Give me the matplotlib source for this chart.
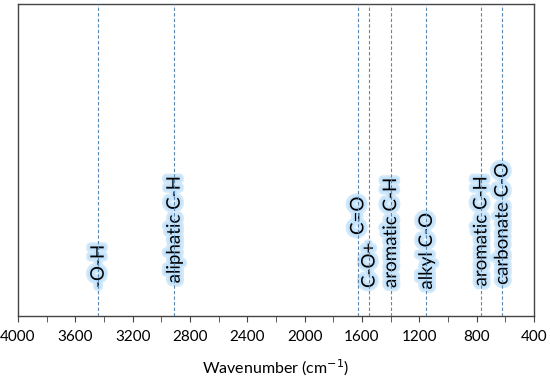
import matplotlib.pyplot as plt
import matplotlib.patheffects as pe
from matplotlib.ticker import MultipleLocator

# band positions (cm-1) and their assignments
bands = [3440, 2910, 1628, 1550, 1400, 1150, 770, 622]
labels = ['-O-H', 'aliphatic C-H', 'C=O', 'C-O+', 'aromatic C-H',
          'alkyl C-O', 'aromatic C-H', 'carbonate C-O']
label_y = [0.09, 0.105, 0.26, 0.09, 0.09, 0.085, 0.095, 0.1]

plt.rcParams['font.family'] = ['Lato', 'DejaVu Sans']


def main():
    fig = plt.figure(figsize=(5.5, 3.79), dpi=100)
    ax = fig.add_axes([0.0327, 0.166, 0.938, 0.823])
    ax.set_xlim(4000, 400)
    ax.set_ylim(0, 1)

    glow = [pe.withStroke(linewidth=6, foreground='#9fd0f5', alpha=0.45),
            pe.withStroke(linewidth=3, foreground='#c2e2fb')]
    for x, s, y in zip(bands, labels, label_y):
        ax.text(x, y, s, rotation=90, ha='center', va='bottom',
                fontsize=13.5, color='black', path_effects=glow, zorder=2)
        ax.axvline(x, color='#5a88b0', lw=0.8, ls=(0, (3, 2)), zorder=3)

    ax.xaxis.set_major_locator(MultipleLocator(400))
    ax.xaxis.set_minor_locator(MultipleLocator(200))
    ax.tick_params(axis='x', which='both', direction='out', length=4,
                   color='#444444', labelsize=11, pad=6)
    ax.set_yticks([])
    for sp in ax.spines.values():
        sp.set_color('#444444')
        sp.set_linewidth(1.0)
    ax.set_xlabel('Wavenumber (cm$^{-1}$)', fontsize=11.5, labelpad=10)

    fig.savefig('out.png', dpi=100)


if __name__ == '__main__':
    main()
